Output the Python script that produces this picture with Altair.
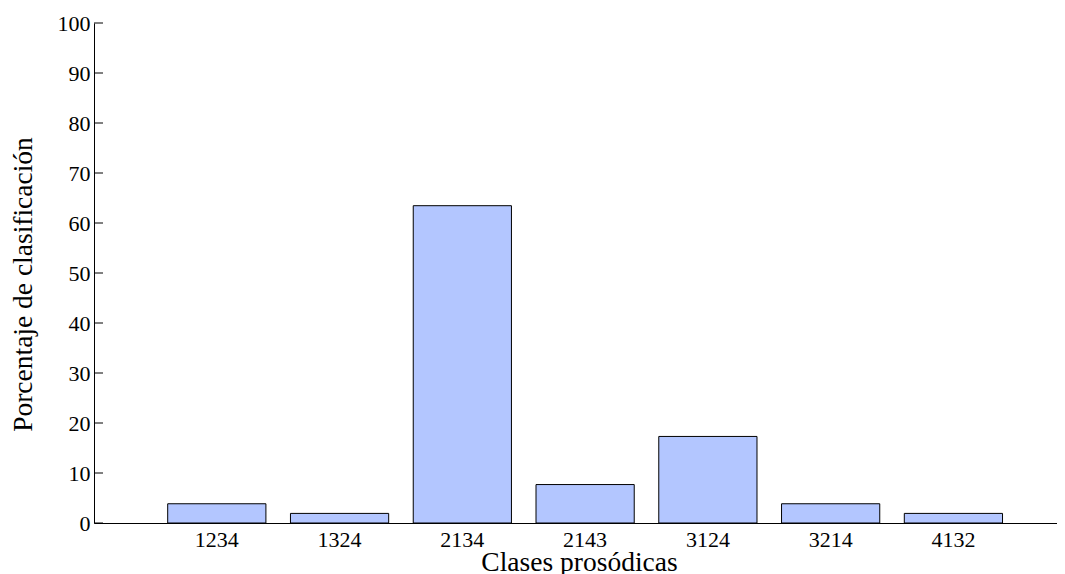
import altair as alt
import pandas as pd

categories = ["1234", "1324", "2134", "2143", "3124", "3214", "4132"]
values = [3.85, 1.92, 63.46, 7.69, 17.31, 3.85, 1.92]
y_ticks = [0, 10, 20, 30, 40, 50, 60, 70, 80, 90, 100]

df = pd.DataFrame({"clase": categories, "pct": values})
ticks_df = pd.DataFrame({"t": y_ticks})

FONT = "Liberation Serif"

y_scale = alt.Scale(domain=[0, 100], nice=False, zero=True)

bars = alt.Chart(df).mark_bar(
    fill="#b3c6ff", stroke="black", strokeWidth=1
).encode(
    x=alt.X(
        "clase:N",
        sort=categories,
        scale=alt.Scale(paddingInner=0.2, paddingOuter=0.522, align=0.575, round=False),
        axis=alt.Axis(
            title="Clases prosódicas",
            labelAngle=0,
            ticks=False,
            tickSize=0,
            labelPadding=6,
            labelFontSize=22,
            labelColor="black",
            titleFontSize=27.5,
            titleFontWeight="normal",
            titleColor="black",
            titleX=485,
            titleY=47,
            titleAlign="center",
            titleBaseline="alphabetic",
            domainColor="black",
            domainWidth=1,
            grid=False,
        ),
    ),
    y=alt.Y(
        "pct:Q",
        scale=y_scale,
        axis=alt.Axis(
            title="Porcentaje de clasificación",
            values=y_ticks,
            ticks=False,
            tickSize=0,
            labelPadding=4,
            labelFontSize=22,
            labelColor="black",
            labelBaseline="middle",
            titleFontSize=27.5,
            titleFontWeight="normal",
            titleColor="black",
            titleX=-71,
            titleY=261,
            titleAlign="center",
            titleBaseline="middle",
            domainColor="black",
            domainWidth=1,
            grid=False,
        ),
    ),
)

tick_marks = alt.Chart(ticks_df).mark_rule(color="black", strokeWidth=1).encode(
    y=alt.Y("t:Q", scale=y_scale),
    x=alt.value(0),
    x2=alt.value(9),
)

chart = alt.layer(bars, tick_marks).properties(
    width=963,
    height=500,
    autosize="none",
    padding={"left": 86, "top": 15, "right": 0, "bottom": 51},
).configure_view(
    strokeWidth=0
).configure_axis(
    labelFont=FONT, titleFont=FONT
)

chart.save("out.html", embed_options={"renderer": "svg", "actions": False})
